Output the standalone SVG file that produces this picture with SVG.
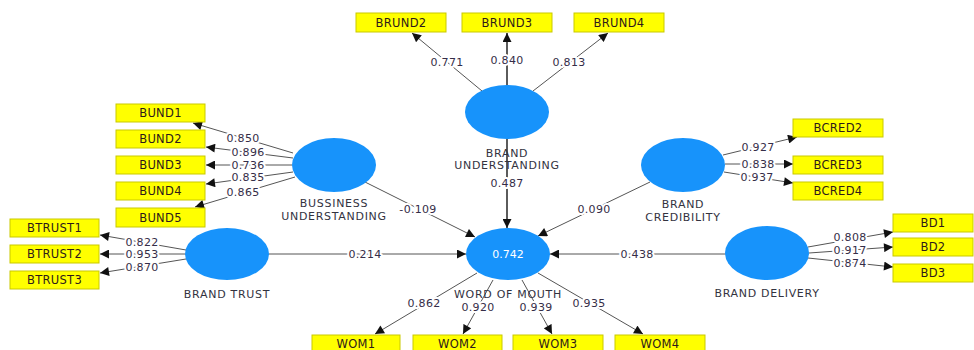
<svg xmlns="http://www.w3.org/2000/svg" width="974" height="350" viewBox="0 0 974 350">
  <style>
    .lv { fill: #1793fb; }
    .ind rect { fill: #ffff00; stroke: #c9c900; stroke-width: 1; }
    .ind text { font-family: "DejaVu Sans", Verdana, sans-serif; font-size: 11.5px; fill: #2e1a1a; text-anchor: middle; letter-spacing: 0.3px; }
    .name { font-family: "DejaVu Sans", Verdana, sans-serif; font-size: 11px; fill: #33333f; text-anchor: middle; letter-spacing: 0.7px; }
    .r2 { font-family: "DejaVu Sans", Verdana, sans-serif; font-size: 11px; fill: #ffffff; text-anchor: middle; }
    .w { font-family: "DejaVu Sans", Verdana, sans-serif; font-size: 11px; fill: #352d48; text-anchor: middle; letter-spacing: 0.3px;
         paint-order: stroke; stroke: #ffffff; stroke-width: 4px; stroke-linejoin: round; }
    .c line { stroke: #555555; stroke-width: 1; marker-end: url(#ah); }
    .c line.bold { stroke: #333333; stroke-width: 1.6; }
  </style>
  <defs>
    <marker id="ah" viewBox="0 0 10 10" refX="10" refY="5" markerWidth="10" markerHeight="9" markerUnits="userSpaceOnUse" orient="auto">
      <path d="M0,0 L10,5 L0,10 z" fill="#111111"/>
    </marker>
  </defs>
  <rect width="974" height="350" fill="#ffffff"/>

  <!-- connectors -->
  <g id="connectors" class="c">
    <line x1="482" y1="91" x2="412" y2="33"/>
    <line class="bold" x1="507" y1="85" x2="507" y2="33"/>
    <line x1="533" y1="91" x2="608" y2="33"/>
    <line class="bold" x1="507" y1="139" x2="507" y2="228"/>

    <line x1="293" y1="153" x2="193" y2="123"/>
    <line x1="293" y1="158" x2="206" y2="147"/>
    <line x1="292" y1="165" x2="206" y2="165"/>
    <line x1="293" y1="172" x2="206" y2="184"/>
    <line x1="295" y1="177" x2="195" y2="207"/>
    <line x1="365" y1="182" x2="475" y2="237"/>

    <line x1="186" y1="250" x2="100" y2="235"/>
    <line x1="185" y1="254" x2="100" y2="254"/>
    <line x1="186" y1="259" x2="100" y2="273"/>
    <line x1="269" y1="254" x2="466" y2="254"/>

    <line x1="723" y1="155" x2="797" y2="137"/>
    <line x1="725" y1="164" x2="793" y2="164"/>
    <line x1="724" y1="172" x2="793" y2="183"/>
    <line x1="650" y1="182" x2="538" y2="236"/>

    <line x1="808" y1="247" x2="893" y2="232"/>
    <line x1="809" y1="253" x2="893" y2="247"/>
    <line x1="808" y1="258" x2="893" y2="267"/>
    <line x1="725" y1="254" x2="550" y2="254"/>

    <line x1="477" y1="273" x2="375" y2="334"/>
    <line x1="493" y1="280" x2="463" y2="334"/>
    <line x1="522" y1="280" x2="552" y2="334"/>
    <line x1="538" y1="273" x2="643" y2="334"/>
  </g>

  <!-- path and loading weights -->
  <g id="weights">
    <text class="w" x="447" y="66">0.771</text>
    <text class="w" x="507" y="64">0.840</text>
    <text class="w" x="569" y="66">0.813</text>
    <text class="w" x="507" y="187">0.487</text>

    <text class="w" x="243" y="142">0.850</text>
    <text class="w" x="248" y="156">0.896</text>
    <text class="w" x="248" y="169">0.736</text>
    <text class="w" x="248" y="181">0.835</text>
    <text class="w" x="243" y="196">0.865</text>
    <text class="w" x="418" y="213">-0.109</text>

    <text class="w" x="142" y="246">0.822</text>
    <text class="w" x="142" y="258">0.953</text>
    <text class="w" x="142" y="271">0.870</text>
    <text class="w" x="365" y="258">0.214</text>

    <text class="w" x="758" y="151">0.927</text>
    <text class="w" x="758" y="168">0.838</text>
    <text class="w" x="757" y="181">0.937</text>
    <text class="w" x="594" y="213">0.090</text>

    <text class="w" x="850" y="241">0.808</text>
    <text class="w" x="850" y="254">0.917</text>
    <text class="w" x="850" y="267">0.874</text>
    <text class="w" x="637" y="258">0.438</text>

    <text class="w" x="424" y="307">0.862</text>
    <text class="w" x="478" y="311">0.920</text>
    <text class="w" x="536" y="311">0.939</text>
    <text class="w" x="589" y="307">0.935</text>
  </g>

  <!-- latent variables -->
  <g id="brand-understanding">
    <ellipse class="lv" cx="507" cy="112" rx="42" ry="27"/>
    <text class="name" x="507" y="157">BRAND</text>
    <text class="name" x="507" y="169">UNDERSTANDING</text>
  </g>
  <g id="bussiness-understanding">
    <ellipse class="lv" cx="334" cy="165" rx="42" ry="27"/>
    <text class="name" x="334" y="207">BUSSINESS</text>
    <text class="name" x="334" y="220">UNDERSTANDING</text>
  </g>
  <g id="brand-trust">
    <ellipse class="lv" cx="227" cy="254" rx="42" ry="26"/>
    <text class="name" x="227" y="298">BRAND TRUST</text>
  </g>
  <g id="brand-credibility">
    <ellipse class="lv" cx="683" cy="165" rx="42" ry="27"/>
    <text class="name" x="683" y="208">BRAND</text>
    <text class="name" x="683" y="221">CREDIBILITY</text>
  </g>
  <g id="brand-delivery">
    <ellipse class="lv" cx="767" cy="253" rx="42" ry="27"/>
    <text class="name" x="767" y="297">BRAND DELIVERY</text>
  </g>
  <g id="word-of-mouth">
    <ellipse class="lv" cx="508" cy="254" rx="42" ry="26"/>
    <text class="r2" x="508" y="258">0.742</text>
    <text class="name" x="508" y="298">WORD OF MOUTH</text>
  </g>

  <!-- indicators -->
  <g id="BRUND2" class="ind"><rect x="356" y="13" width="90" height="19"/><text x="401" y="27">BRUND2</text></g>
  <g id="BRUND3" class="ind"><rect x="462" y="13" width="90" height="19"/><text x="507" y="27">BRUND3</text></g>
  <g id="BRUND4" class="ind"><rect x="574" y="13" width="90" height="19"/><text x="619" y="27">BRUND4</text></g>

  <g id="BUND1" class="ind"><rect x="116" y="104" width="89" height="18"/><text x="160.5" y="117">BUND1</text></g>
  <g id="BUND2" class="ind"><rect x="116" y="130" width="89" height="18"/><text x="160.5" y="143">BUND2</text></g>
  <g id="BUND3" class="ind"><rect x="116" y="156" width="89" height="18"/><text x="160.5" y="169">BUND3</text></g>
  <g id="BUND4" class="ind"><rect x="116" y="182" width="89" height="18"/><text x="160.5" y="195">BUND4</text></g>
  <g id="BUND5" class="ind"><rect x="116" y="208" width="89" height="19"/><text x="160.5" y="222">BUND5</text></g>

  <g id="BTRUST1" class="ind"><rect x="10" y="219" width="89" height="18"/><text x="54.5" y="232">BTRUST1</text></g>
  <g id="BTRUST2" class="ind"><rect x="10" y="245" width="89" height="18"/><text x="54.5" y="258">BTRUST2</text></g>
  <g id="BTRUST3" class="ind"><rect x="10" y="271" width="89" height="18"/><text x="54.5" y="284">BTRUST3</text></g>

  <g id="BCRED2" class="ind"><rect x="793" y="119" width="90" height="18"/><text x="838" y="132">BCRED2</text></g>
  <g id="BCRED3" class="ind"><rect x="793" y="156" width="90" height="18"/><text x="838" y="169">BCRED3</text></g>
  <g id="BCRED4" class="ind"><rect x="793" y="182" width="90" height="18"/><text x="838" y="195">BCRED4</text></g>

  <g id="BD1" class="ind"><rect x="893" y="214" width="80" height="18"/><text x="933" y="227">BD1</text></g>
  <g id="BD2" class="ind"><rect x="893" y="238" width="80" height="18"/><text x="933" y="251">BD2</text></g>
  <g id="BD3" class="ind"><rect x="893" y="264" width="80" height="18"/><text x="933" y="277">BD3</text></g>

  <g id="WOM1" class="ind"><rect x="312" y="335" width="88" height="18"/><text x="356" y="348">WOM1</text></g>
  <g id="WOM2" class="ind"><rect x="413" y="335" width="89" height="18"/><text x="457.5" y="348">WOM2</text></g>
  <g id="WOM3" class="ind"><rect x="513" y="335" width="90" height="18"/><text x="558" y="348">WOM3</text></g>
  <g id="WOM4" class="ind"><rect x="615" y="335" width="90" height="18"/><text x="660" y="348">WOM4</text></g>
</svg>
